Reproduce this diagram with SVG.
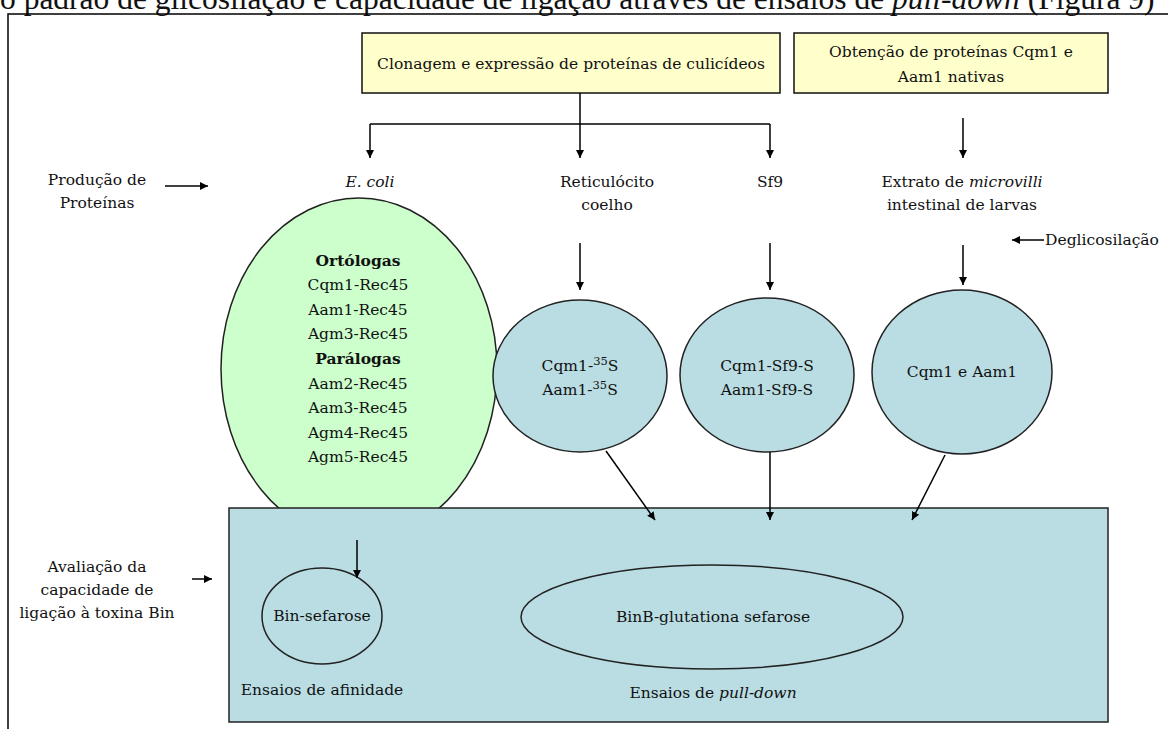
<svg xmlns="http://www.w3.org/2000/svg" width="1168" height="729" viewBox="0 0 1168 729">
<style>
text{font-family:"DejaVu Serif","Liberation Serif",serif;font-size:15.5px;fill:#111;text-anchor:middle}
.top{font-family:"Liberation Serif","Times New Roman",serif;font-size:31.5px;text-anchor:start}
.b{font-weight:bold}
.i{font-style:italic}
.box{fill:#ffffcc;stroke:#111;stroke-width:1.5}
.blue{fill:#b9dde3;stroke:#222;stroke-width:1.5}
.green{fill:#ccffcc;stroke:#222;stroke-width:1.5}
.c{stroke:#000;stroke-width:1.5;fill:none}
</style>
<defs>
<marker id="ah" viewBox="0 0 10 10" refX="10" refY="5" markerWidth="8" markerHeight="8" markerUnits="userSpaceOnUse" orient="auto">
<path d="M0,0 L10,5 L0,10 z" fill="#000"/>
</marker>
</defs>
<rect width="1168" height="729" fill="#fff"/>
<text x="0" y="9" class="top">o padrão de glicosilação e capacidade de ligação através de ensaios de <tspan class="i">pull-down</tspan> (Figura 9)</text>
<rect x="8" y="14" width="1170" height="730" fill="none" stroke="#000" stroke-width="1.5"/>

<g id="clonagem"><rect class="box" x="362" y="33" width="418" height="60"/><text x="571" y="69">Clonagem e expressão de proteínas de culicídeos</text></g>
<g id="obtencao"><rect class="box" x="794" y="33" width="314" height="60"/><text x="951" y="57">Obtenção de proteínas Cqm1 e</text><text x="951" y="82">Aam1 nativas</text></g>

<g id="producao"><text x="97" y="185">Produção de</text><text x="97" y="208">Proteínas</text></g>
<g id="ecoli"><text x="370" y="187" class="i">E. coli</text></g>
<g id="reticulocito"><text x="607" y="187">Reticulócito</text><text x="607" y="210">coelho</text></g>
<g id="sf9"><text x="770" y="187">Sf9</text></g>
<g id="extrato"><text x="962" y="187">Extrato de <tspan class="i">microvilli</tspan></text><text x="962" y="210">intestinal de larvas</text></g>
<g id="deglicosilacao"><text x="1102" y="245">Deglicosilação</text></g>

<g id="ortologas"><ellipse class="green" cx="359" cy="369" rx="138" ry="171"/>
<text x="358" y="266" class="b">Ortólogas</text>
<text x="358" y="290">Cqm1-Rec45</text>
<text x="358" y="315">Aam1-Rec45</text>
<text x="358" y="339">Agm3-Rec45</text>
<text x="358" y="364" class="b">Parálogas</text>
<text x="358" y="389">Aam2-Rec45</text>
<text x="358" y="413">Aam3-Rec45</text>
<text x="358" y="438">Agm4-Rec45</text>
<text x="358" y="462">Agm5-Rec45</text></g>
<g id="cqm1-35s"><ellipse class="blue" cx="580" cy="376" rx="87" ry="76"/><text x="580" y="371">Cqm1-<tspan dy="-6" font-size="11.5">35</tspan><tspan dy="6">S</tspan></text><text x="580" y="395">Aam1-<tspan dy="-6" font-size="11.5">35</tspan><tspan dy="6">S</tspan></text></g>
<g id="cqm1-sf9"><ellipse class="blue" cx="767" cy="375" rx="87" ry="77"/><text x="767" y="371">Cqm1-Sf9-S</text><text x="767" y="395">Aam1-Sf9-S</text></g>
<g id="nativas"><ellipse class="blue" cx="962" cy="372" rx="90" ry="82"/><text x="962" y="377">Cqm1 e Aam1</text></g>

<g id="avaliacao"><rect class="blue" x="229" y="508" width="879" height="214"/></g>
<g id="avaliacao-label"><text x="97" y="572">Avaliação da</text><text x="97" y="595">capacidade de</text><text x="97" y="618">ligação à toxina Bin</text></g>
<g id="bin-sefarose"><ellipse class="blue" cx="322" cy="616" rx="60" ry="48"/><text x="322" y="621">Bin-sefarose</text><text x="322" y="695">Ensaios de afinidade</text></g>
<g id="binb"><ellipse class="blue" cx="712" cy="617" rx="191" ry="52"/><text x="713" y="622">BinB-glutationa sefarose</text><text x="713" y="698">Ensaios de <tspan class="i">pull-down</tspan></text></g>

<g id="connectors" class="c">
<path d="M580,93 V158" marker-end="url(#ah)"/>
<path d="M370,124 H770"/>
<path d="M370,124 V158" marker-end="url(#ah)"/>
<path d="M770,124 V158" marker-end="url(#ah)"/>
<path d="M963,118 V158" marker-end="url(#ah)"/>
<path d="M165,186 H208" marker-end="url(#ah)"/>
<path d="M580,243 V290" marker-end="url(#ah)"/>
<path d="M770,243 V290" marker-end="url(#ah)"/>
<path d="M963,245 V285" marker-end="url(#ah)"/>
<path d="M1044,240 H1012" marker-end="url(#ah)"/>
<path d="M357,540 V578" marker-end="url(#ah)"/>
<path d="M606,451 L655,520" marker-end="url(#ah)"/>
<path d="M770,452 V520" marker-end="url(#ah)"/>
<path d="M945,455 L912,520" marker-end="url(#ah)"/>
<path d="M192,579 H212" marker-end="url(#ah)"/>
</g>
</svg>
